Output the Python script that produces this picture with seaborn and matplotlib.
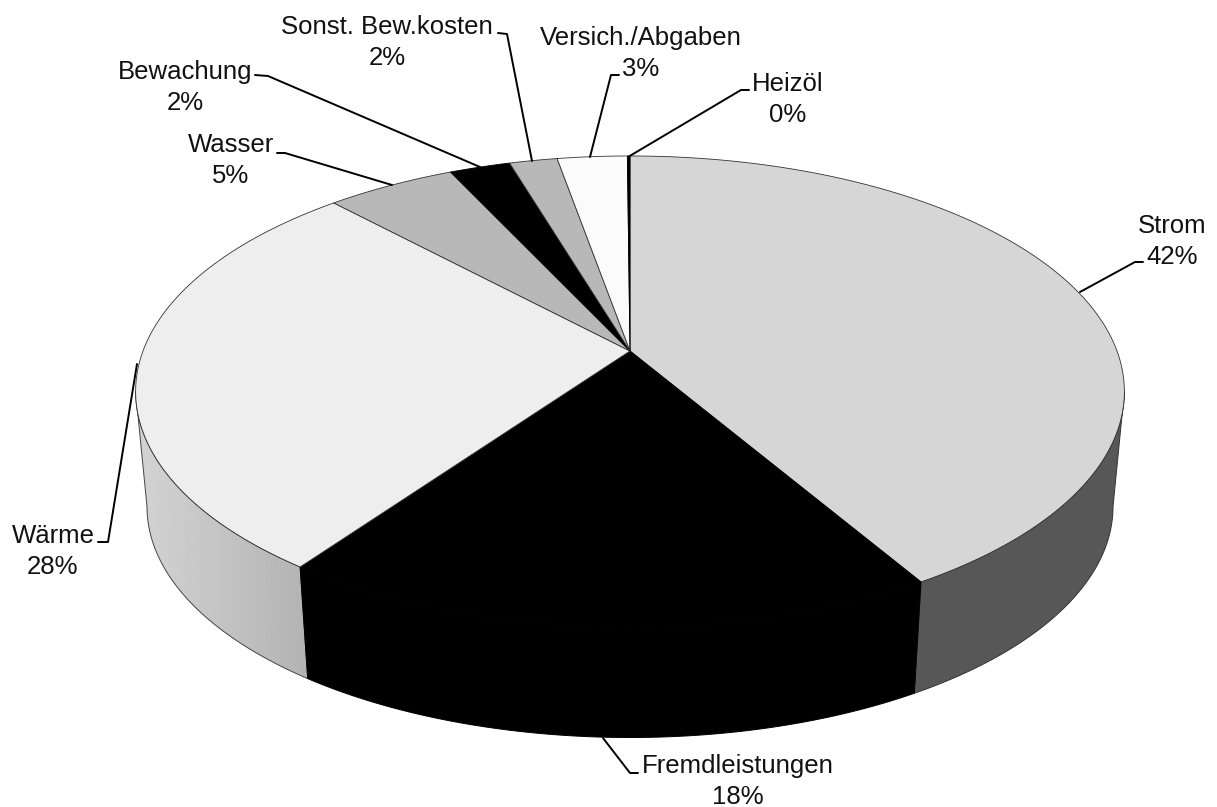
"""
3D look pie chart of the cost shares, drawn in pixel coordinates.
"""
import numpy as np
import matplotlib
matplotlib.use("Agg")
import matplotlib.pyplot as plt
from matplotlib.patches import Polygon
import seaborn as sns

# ── Data ─────────────────────────────────────────────────────────────────────
categories = ["Strom", "Fremdleistungen", "Wärme", "Wasser", "Bewachung",
              "Sonst. Bew.kosten", "Versich./Abgaben", "Heizöl"]
shares = [41.5, 18.4, 28.1, 5.0, 2.35, 1.85, 2.7, 0.1]
shown_pct = ["42%", "18%", "28%", "5%", "2%", "2%", "3%", "0%"]
top_colors = ["#d6d6d6", "#000000", "#eeeeee", "#b8b8b8",
              "#000000", "#b8b8b8", "#fbfbfb", "#000000"]

# ── Layout ───────────────────────────────────────────────────────────────────
CX, CY = 630, 351      # pie centre on the picture
RX = 487               # horizontal radius before perspective
RY = -168.2            # vertical term of the projection
PERSP = 0.172          # perspective strength
DEPTH_X = 0.977        # bottom rim is a bit narrower
DEPTH_Y = 0.98
DEPTH_OFF = 123

label_pos = [(1172, 226), (738, 766), (53, 536), (231, 145),
             (185, 72), (387, 27), (641, 38), (788, 84)]
leaders = [
    ([1080, 1135, 1143], [292, 262, 262]),
    ([603, 630, 638], [738, 773, 773]),
    ([137, 108, 98], [364, 542, 542]),
    ([392, 285, 277], [185, 153, 153]),
    ([480, 268, 255], [167, 76, 75]),
    ([532, 507, 498], [161, 34, 33]),
    ([590, 611, 619], [157, 75, 75]),
    ([628, 741, 749], [157, 90, 90]),
]


def top_rim(theta):
    # theta in degrees, clockwise from 12 o'clock
    t = np.radians(theta)
    u, v = np.sin(t), np.cos(t)
    w = 1 + PERSP * v
    return CX + RX * u / w, (RY * v + CY) / w


def bottom_rim(theta):
    x, y = top_rim(theta)
    return CX + DEPTH_X * (x - CX), DEPTH_Y * y + DEPTH_OFF


def side_poly(a, b):
    th = np.linspace(a, b, 120)
    xt, yt = top_rim(th)
    xb, yb = bottom_rim(th)
    return np.column_stack([np.r_[xt, xb[::-1]], np.r_[yt, yb[::-1]]])


sns.set_theme(style="white")
plt.rcParams["font.family"] = ["Liberation Sans", "DejaVu Sans"]

fig, ax = plt.subplots(figsize=(12.17, 8.07), dpi=100)
fig.subplots_adjust(0, 0, 1, 1)

edges = np.cumsum([0] + shares) / sum(shares) * 360
sil_r = np.degrees(np.arccos(-PERSP))
sil_l = 360 - sil_r

# ── Side walls ───────────────────────────────────────────────────────────────
ax.add_patch(Polygon(side_poly(sil_r, edges[1]), fc="#575757", ec="#333333", lw=0.7))

wall = Polygon(side_poly(edges[2], sil_l), fc="none", ec="#444444", lw=0.7, zorder=2)
ax.add_patch(wall)
grad = ax.imshow(np.linspace(0.83, 0.70, 256).reshape(1, -1), cmap="gray", vmin=0, vmax=1,
                 extent=(136, 312, 740, 360), aspect="auto", zorder=1)
grad.set_clip_path(wall)
ax.add_patch(Polygon(side_poly(edges[1], edges[2]), fc="#000000", ec="#000000", lw=0.7, zorder=2.5))

# ── Top face ─────────────────────────────────────────────────────────────────
for a, b, col in zip(edges[:-1], edges[1:], top_colors):
    th = np.linspace(a, b, 200)
    xt, yt = top_rim(th)
    pts = np.column_stack([np.r_[CX, xt], np.r_[CY, yt]])
    edge = "#000000" if col == "#000000" else "#333333"
    ax.add_patch(Polygon(pts, fc=col, ec=edge, lw=0.6, zorder=3))

# ── Leader lines and labels ──────────────────────────────────────────────────
for lx, ly in leaders:
    sns.lineplot(x=lx, y=ly, sort=False, estimator=None, color="black", lw=1.4, ax=ax, zorder=4)

for name, pct, (tx, ty) in zip(categories, shown_pct, label_pos):
    ax.text(tx, ty, name, ha="center", va="center", fontsize=18.5, color="#111111")
    ax.text(tx, ty + 31, pct, ha="center", va="center", fontsize=18.5, color="#111111")

ax.set_xlim(0, 1217)
ax.set_ylim(807, 0)
ax.set_axis_off()
fig.savefig("out.png", dpi=100)
plt.close(fig)
